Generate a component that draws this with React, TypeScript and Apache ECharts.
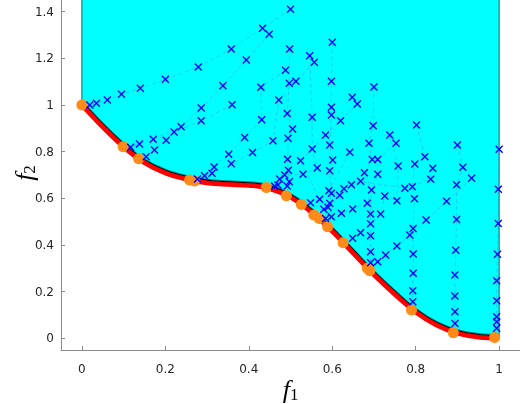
import React, { useEffect, useRef } from "react";
import * as echarts from "echarts";

// Pareto front (f1, f2)
const frontX = [0, 0.05, 0.1, 0.15, 0.2, 0.25, 0.3, 0.35, 0.4, 0.45, 0.5, 0.55, 0.6, 0.65, 0.7, 0.75, 0.8, 0.85, 0.9, 0.95, 1];
const frontY = [1, 0.905, 0.82, 0.752, 0.708, 0.682, 0.666, 0.659, 0.655, 0.641, 0.604, 0.54, 0.458, 0.365, 0.272, 0.188, 0.112, 0.056, 0.021, 0.005, 0];

// Final solutions on the front (orange dots)
const dotX = [0, 0.099, 0.136, 0.258, 0.27, 0.442, 0.49, 0.526, 0.556, 0.569, 0.589, 0.626, 0.684, 0.69, 0.79, 0.89, 0.989];
const dotY = [1, 0.821, 0.77, 0.679, 0.674, 0.646, 0.611, 0.574, 0.529, 0.514, 0.478, 0.41, 0.3, 0.29, 0.121, 0.024, 0.004];

// Iterate trajectories (blue crosses), from start towards the front
const trajA = [[0.5, 1.41], [0.433, 1.329], [0.358, 1.24], [0.279, 1.163], [0.2, 1.11], [0.14, 1.072], [0.095, 1.046], [0.061, 1.021], [0.035, 1.007], [0.019, 1.0]];
const trajB = [[0.449, 1.303], [0.394, 1.193], [0.338, 1.083], [0.286, 0.987], [0.238, 0.907], [0.171, 0.853], [0.138, 0.833], [0.117, 0.819]];
const trajC = [[0.36, 1.001], [0.286, 0.933], [0.221, 0.884], [0.202, 0.849], [0.174, 0.807], [0.154, 0.778]];
const trajD = [[0.488, 1.149], [0.429, 1.076], [0.431, 0.937], [0.39, 0.861], [0.352, 0.789], [0.317, 0.734], [0.312, 0.708], [0.294, 0.697], [0.277, 0.683]];
const trajE = [[0.557, 1.183], [0.513, 1.102], [0.472, 1.021], [0.458, 0.847], [0.409, 0.796], [0.358, 0.748]];
const trajF = [[0.498, 1.24], [0.497, 1.093], [0.492, 0.964], [0.505, 0.897], [0.494, 0.857], [0.493, 0.767], [0.495, 0.72], [0.497, 0.671], [0.492, 0.653]];
const trajG = [[0.546, 1.211], [0.552, 0.947], [0.552, 0.811], [0.564, 0.73], [0.53, 0.703], [0.486, 0.7], [0.474, 0.683], [0.47, 0.657], [0.462, 0.653]];
const trajH = [[0.6, 1.269], [0.598, 1.102], [0.598, 0.99], [0.598, 0.957], [0.594, 0.829], [0.601, 0.764], [0.594, 0.718], [0.598, 0.622], [0.594, 0.579], [0.598, 0.521]];
const trajI = [[0.648, 1.033], [0.66, 1.004], [0.62, 0.933], [0.584, 0.871], [0.524, 0.761], [0.57, 0.596], [0.548, 0.581]];
const trajJ = [[0.642, 0.797], [0.592, 0.633], [0.618, 0.613], [0.59, 0.562], [0.58, 0.553]];
const trajK = [[0.753, 0.836], [0.709, 0.766], [0.709, 0.703], [0.684, 0.579], [0.649, 0.554], [0.622, 0.536], [0.584, 0.514]];
const trajL = [[0.738, 0.871], [0.758, 0.739], [0.755, 0.59], [0.726, 0.61], [0.716, 0.533], [0.668, 0.453], [0.649, 0.429]];
const trajM = [[0.7, 1.077], [0.698, 0.911], [0.688, 0.836], [0.696, 0.766], [0.677, 0.71], [0.694, 0.636], [0.692, 0.533], [0.692, 0.491], [0.692, 0.44], [0.692, 0.371], [0.692, 0.324]];
const trajN = [[0.934, 0.686], [0.874, 0.587], [0.825, 0.507], [0.786, 0.443], [0.755, 0.396], [0.728, 0.357], [0.709, 0.328]];
const trajO = [[0.802, 0.914], [0.822, 0.778], [0.798, 0.747], [0.792, 0.65], [0.797, 0.598], [0.794, 0.471], [0.794, 0.361], [0.794, 0.279], [0.793, 0.204], [0.793, 0.157]];
const trajP = [[0.9, 0.829], [0.913, 0.733], [0.898, 0.658], [0.898, 0.509], [0.896, 0.378], [0.894, 0.271], [0.894, 0.181], [0.894, 0.114], [0.894, 0.064]];
const trajQ = [[1.0, 0.81], [0.998, 0.639], [0.998, 0.492], [0.996, 0.36], [0.994, 0.247], [0.994, 0.161], [0.994, 0.093], [0.994, 0.071], [0.994, 0.043]];
const trajR = [[0.841, 0.729], [0.836, 0.682], [0.774, 0.643], [0.668, 0.673], [0.646, 0.658], [0.628, 0.641]];

const trajectories = [trajA, trajB, trajC, trajD, trajE, trajF, trajG, trajH, trajI, trajJ, trajK, trajL, trajM, trajN, trajO, trajP, trajQ, trajR];
// index of the front dot each trajectory ends at (-1: none)
const trajEnds = [0, 1, 2, 3, 4, 6, 5, 10, 7, 8, 9, 11, 13, 12, 14, 15, 16, -1];

const xTicks = [0, 0.2, 0.4, 0.6, 0.8, 1];
const yTicks = [0, 0.2, 0.4, 0.6, 0.8, 1, 1.2, 1.4];

const AXIS_GRAY = "#8c8c8c";
const LABEL = "#262626";

export default function App() {
  const ref = useRef<HTMLDivElement>(null);
  useEffect(() => {
    const chart = echarts.init(ref.current!, null, { renderer: "svg" });
    const front = frontX.map((x, i) => [x, frontY[i]]);
    const dots = dotX.map((x, i) => [x, dotY[i]]);
    const markers = trajectories.flat();

    const trajSeries = trajectories.map((t, i) => ({
      type: "line",
      data: trajEnds[i] >= 0 ? [...t, dots[trajEnds[i]]] : t,
      symbol: "none",
      silent: true,
      z: 3,
      lineStyle: { color: "rgba(60,140,255,0.45)", width: 1, type: [4, 3] },
    }));

    const axisCommon = {
      type: "value",
      splitLine: { show: false },
      nameMoveOverlap: false,
      axisLine: { show: true, onZero: false, lineStyle: { color: AXIS_GRAY, width: 1 } },
    };
    const richName = {
      f: { fontFamily: "Liberation Serif", fontStyle: "italic", fontSize: 26, color: "#000", lineHeight: 28 },
      s: { fontFamily: "Liberation Serif", fontSize: 17, color: "#000", lineHeight: 14, verticalAlign: "bottom" },
    };

    chart.setOption({
      animation: false,
      grid: { left: 61, right: 0, top: 0, bottom: 54, outerBoundsMode: "none", containLabel: false },
      xAxis: {
        ...axisCommon,
        min: -0.05,
        max: 1.05,
        axisTick: { show: true, inside: true, length: 4, customValues: xTicks, lineStyle: { color: AXIS_GRAY } },
        axisLabel: {
          customValues: xTicks,
          color: LABEL,
          fontSize: 12,
          fontFamily: "DejaVu Sans",
          margin: 13,
          formatter: (v: number) => String(v),
        },
        name: "{f|f}{s|1}",
        nameLocation: "middle",
        nameGap: 25,
        nameTextStyle: { rich: richName },
      },
      yAxis: {
        ...axisCommon,
        min: -0.05,
        max: 1.45,
        axisTick: { show: true, inside: true, length: 4, customValues: yTicks, lineStyle: { color: AXIS_GRAY } },
        axisLabel: {
          customValues: yTicks,
          color: LABEL,
          fontSize: 12,
          fontFamily: "DejaVu Sans",
          margin: 7,
          formatter: (v: number) => String(v),
        },
        name: "{f|f}{s|2}",
        nameLocation: "middle",
        nameRotate: 90,
        nameGap: 23,
        nameTextStyle: { rich: richName, padding: [0, 0, 0, 4] },
      },
      series: [
        {
          type: "line",
          data: front,
          smooth: 0.4,
          symbol: "none",
          silent: true,
          z: 1,
          lineStyle: { width: 0, opacity: 0 },
          areaStyle: { color: "#00ffff", opacity: 1, origin: "end" },
        },
        {
          type: "line",
          data: [[0, 1], [0, 1.45]],
          symbol: "none",
          silent: true,
          z: 2,
          lineStyle: { color: "#1f5f5f", width: 1 },
        },
        {
          type: "line",
          data: [[1, 0], [1, 1.45]],
          symbol: "none",
          silent: true,
          z: 2,
          lineStyle: { color: "#1f5f5f", width: 1 },
        },
        ...trajSeries,
        {
          type: "line",
          data: front,
          smooth: 0.4,
          symbol: "none",
          silent: true,
          z: 4,
          lineStyle: { color: "#ff0000", width: 4.5, shadowColor: "#000", shadowBlur: 0.5, shadowOffsetY: -1.5 },
        },
        {
          type: "scatter",
          data: dots,
          symbol: "circle",
          symbolSize: 11,
          silent: true,
          z: 5,
          itemStyle: { color: "#ff8c1a", opacity: 1 },
        },
        {
          type: "scatter",
          data: markers,
          symbol: "path://M0,0L10,10M10,0L0,10",
          symbolSize: 7,
          silent: true,
          z: 6,
          itemStyle: { color: "none", borderColor: "#0000ff", borderWidth: 1.4, opacity: 1 },
        },
      ],
    });
    return () => chart.dispose();
  }, []);
  return <div ref={ref} style={{ position: "fixed", left: 0, top: 0, width: 520, height: 404 }} />;
}
